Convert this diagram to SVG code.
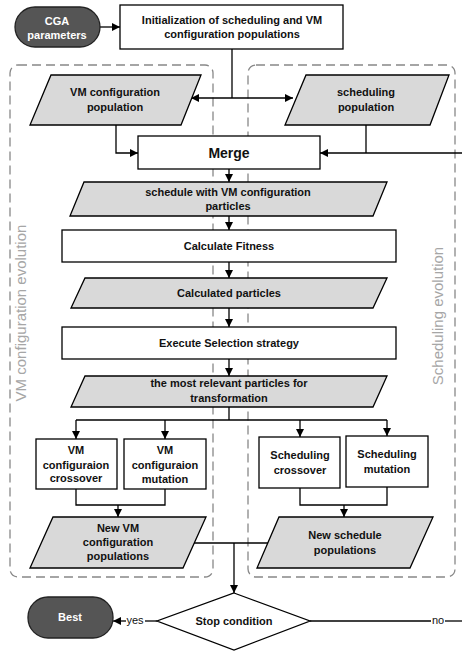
<svg xmlns="http://www.w3.org/2000/svg" width="462" height="652" viewBox="0 0 462 652">
<defs>
<marker id="arr" markerWidth="8" markerHeight="8" refX="8" refY="4" orient="auto" markerUnits="userSpaceOnUse">
<path d="M0,0 L8,4 L0,8 z" fill="#000"/>
</marker>
<style>
.box{fill:#fff;stroke:#000;stroke-width:1.3}
.data{fill:#d9d9d9;stroke:#000;stroke-width:1.3}
.term{fill:#555;stroke:#222;stroke-width:1.3}
.region{fill:none;stroke:#888;stroke-width:1.3;stroke-dasharray:9,5}
.t{font-family:"Liberation Sans",Arial,sans-serif;font-weight:bold;font-size:11px;fill:#111;text-anchor:middle}
.tw{font-family:"Liberation Sans",Arial,sans-serif;font-weight:bold;font-size:11px;fill:#fff;text-anchor:middle}
.lbl{font-family:"Liberation Sans",Arial,sans-serif;font-size:11px;fill:#111;text-anchor:middle}
.side{font-family:"Liberation Sans",Arial,sans-serif;font-size:15px;fill:#a6a6a6;text-anchor:middle}
.c{fill:none;stroke:#000;stroke-width:1.3}
.ca{fill:none;stroke:#000;stroke-width:1.3;marker-end:url(#arr)}
</style>
</defs>
<rect width="462" height="652" fill="#fff"/>

<g id="regions">
<rect class="region" x="10" y="65" width="203" height="512" rx="8"/>
<rect class="region" x="248" y="65" width="207" height="512" rx="8"/>
<text class="side" transform="translate(26,313) rotate(-90)">VM configuration evolution</text>
<text class="side" transform="translate(443,316) rotate(-90)">Scheduling evolution</text>
</g>

<g id="connectors">
<line class="ca" x1="100" y1="27" x2="120" y2="27"/>
<line class="c" x1="232" y1="49" x2="232" y2="98"/>
<line class="ca" x1="232" y1="98" x2="191" y2="98"/>
<line class="ca" x1="232" y1="98" x2="293" y2="98"/>
<polyline class="ca" points="116,125 116,153 138,153"/>
<line class="c" x1="366" y1="125" x2="366" y2="153"/>
<line class="ca" x1="462" y1="153" x2="320" y2="153"/>
<line class="ca" x1="229" y1="169" x2="229" y2="182"/>
<line class="ca" x1="229" y1="216" x2="229" y2="230"/>
<line class="ca" x1="229" y1="262" x2="229" y2="278"/>
<line class="ca" x1="229" y1="308" x2="229" y2="327"/>
<line class="ca" x1="229" y1="359" x2="229" y2="376"/>
<line class="c" x1="229" y1="407" x2="229" y2="420"/>
<line class="c" x1="76" y1="420" x2="387" y2="420"/>
<line class="ca" x1="76" y1="420" x2="76" y2="439"/>
<line class="ca" x1="165" y1="420" x2="165" y2="439"/>
<line class="ca" x1="300" y1="420" x2="300" y2="437"/>
<line class="ca" x1="387" y1="420" x2="387" y2="436"/>
<polyline class="c" points="76,489 76,505 165,505 165,489"/>
<line class="ca" x1="118" y1="505" x2="118" y2="517"/>
<polyline class="c" points="300,488 300,505 387,505 387,487"/>
<line class="ca" x1="344" y1="505" x2="344" y2="517"/>
<line class="c" x1="194" y1="543" x2="268" y2="543"/>
<line class="ca" x1="234" y1="543" x2="234" y2="593"/>
<line class="c" x1="157" y1="621" x2="145" y2="621"/>
<line class="ca" x1="126" y1="621" x2="113" y2="621"/>
<text class="lbl" x="135" y="624">yes</text>
<line class="c" x1="310" y1="621" x2="431" y2="621"/>
<text class="lbl" x="438" y="624">no</text>
<line class="c" x1="445" y1="621" x2="462" y2="621"/>
</g>

<g id="cga">
<rect class="term" x="15" y="7" width="85" height="40" rx="20"/>
<text class="tw" x="57" y="25">CGA</text>
<text class="tw" x="57" y="39">parameters</text>
</g>

<g id="init">
<rect class="box" x="120" y="5" width="223" height="44"/>
<text class="t" x="232" y="24">Initialization of scheduling  and VM</text>
<text class="t" x="232" y="38">configuration populations</text>
</g>

<g id="vmpop">
<polygon class="data" points="51,75 201,75 181,125 30,125"/>
<text class="t" x="115" y="96">VM configuration</text>
<text class="t" x="115" y="111">population</text>
</g>

<g id="schedpop">
<polygon class="data" points="306,75 449,75 430,125 285,125"/>
<text class="t" x="366" y="96">scheduling</text>
<text class="t" x="366" y="111">population</text>
</g>

<g id="merge">
<rect class="box" x="138" y="136" width="182" height="33"/>
<text class="t" x="229" y="158" style="font-size:14px">Merge</text>
</g>

<g id="swvm">
<polygon class="data" points="84,182 387,182 373,216 70,216"/>
<text class="t" x="228" y="196">schedule with VM configuration</text>
<text class="t" x="228" y="210">particles</text>
</g>

<g id="fitness">
<rect class="box" x="62" y="230" width="334" height="32"/>
<text class="t" x="229" y="250">Calculate Fitness</text>
</g>

<g id="calc">
<polygon class="data" points="85,278 387,278 373,308 71,308"/>
<text class="t" x="229" y="297">Calculated particles</text>
</g>

<g id="select">
<rect class="box" x="62" y="327" width="334" height="32"/>
<text class="t" x="229" y="347">Execute Selection strategy</text>
</g>

<g id="relevant">
<polygon class="data" points="85,376 387,376 373,407 71,407"/>
<text class="t" x="229" y="387">the most relevant particles for</text>
<text class="t" x="229" y="402">transformation</text>
</g>

<g id="vmcross">
<rect class="box" x="36" y="439" width="81" height="50"/>
<text class="t" x="76" y="454">VM</text>
<text class="t" x="76" y="469">configuraion</text>
<text class="t" x="76" y="482">crossover</text>
</g>

<g id="vmmut">
<rect class="box" x="124" y="439" width="82" height="50"/>
<text class="t" x="165" y="454">VM</text>
<text class="t" x="165" y="469">configuraion</text>
<text class="t" x="165" y="483">mutation</text>
</g>

<g id="schcross">
<rect class="box" x="259" y="437" width="81" height="51"/>
<text class="t" x="300" y="459">Scheduling</text>
<text class="t" x="300" y="474">crossover</text>
</g>

<g id="schmut">
<rect class="box" x="346" y="436" width="82" height="51"/>
<text class="t" x="387" y="458">Scheduling</text>
<text class="t" x="387" y="473">mutation</text>
</g>

<g id="newvm">
<polygon class="data" points="53,517 206,517 183,568 30,568"/>
<text class="t" x="118" y="532">New VM</text>
<text class="t" x="118" y="546">configuration</text>
<text class="t" x="118" y="560">populations</text>
</g>

<g id="newsched">
<polygon class="data" points="279,517 433,517 410,568 257,568"/>
<text class="t" x="345" y="539">New schedule</text>
<text class="t" x="345" y="554">populations</text>
</g>

<g id="stop">
<polygon class="box" points="234,593 310,621 234,650 157,621"/>
<text class="t" x="234" y="625">Stop condition</text>
</g>

<g id="best">
<rect class="term" x="28" y="597" width="85" height="41" rx="20"/>
<text class="tw" x="70" y="621">Best</text>
</g>
</svg>
